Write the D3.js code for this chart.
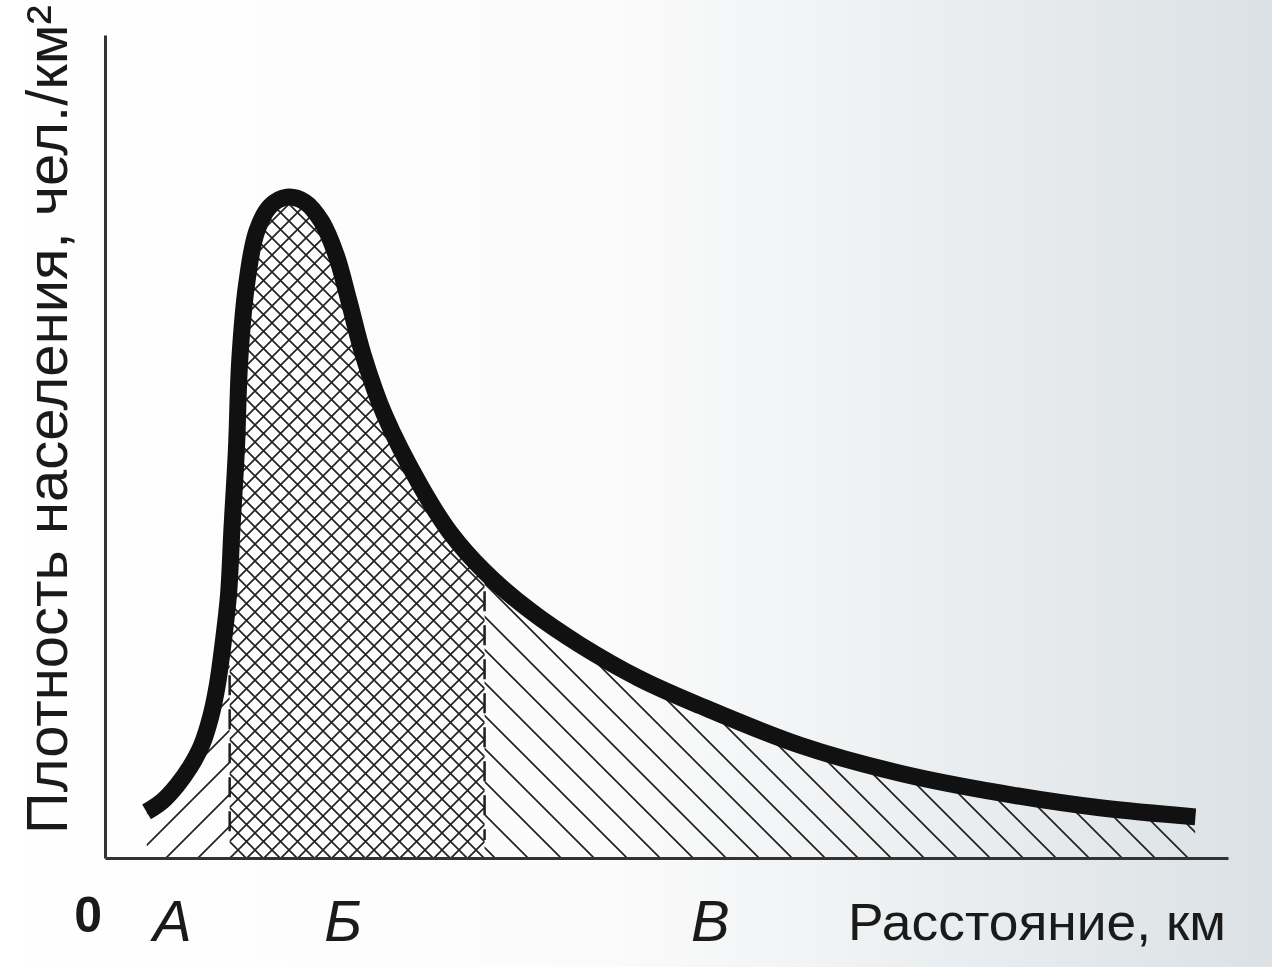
<!DOCTYPE html>
<html>
<head>
<meta charset="utf-8">
<script src="https://cdn.jsdelivr.net/npm/d3@7"></script>
<style>
body { margin: 0; background: #fff; }
svg { display: block; }
.lbl { font-family: "Liberation Sans", Arial, sans-serif; fill: #1a1a1a; }
</style>
</head>
<body>
<script>
// distance from centre (relative units) and population density (relative units)
var distance = [3.7, 5.1, 6.4, 7.6, 8.6, 9.4, 10.0, 10.5, 11.0, 11.3, 11.7, 12.0, 12.6, 13.5, 14.7, 16.2, 17.8,
                19.3, 20.6, 21.7, 23.0, 24.9, 28.1, 30.7, 33.8, 37.9, 42.3, 47.6, 53.0, 61.9, 70.8, 79.7, 88.6, 97.1];
var density  = [5.6, 6.9, 8.8, 11.1, 13.7, 17.1, 21.0, 25.9, 32.0, 39.9, 49.6, 60.5, 69.6, 76.1, 79.2, 80.3, 79.7,
                77.3, 73.2, 67.8, 61.1, 53.8, 45.2, 39.6, 34.8, 30.0, 25.9, 21.8, 18.5, 13.7, 10.3, 7.9, 6.1, 5.0];

var zoneBounds = [11.1, 33.8];          // dashed borders between zones
var dashTops = [22.2, 32.4];
var dashBottom = 2.2;
var zoneLabels = ["А", "Б", "В"];
var zoneLabelX = [6.0, 21.2, 53.9];
var originLabel = "0";
var xTitle = "Расстояние, км";
var yTitle = "Плотность населения, чел./км²";

var w = 1272, h = 967;
var svg = d3.select("body").append("svg").attr("width", w).attr("height", h);

var x = d3.scaleLinear().domain([0, 100]).range([105, 1228]);
var y = d3.scaleLinear().domain([0, 100]).range([858, 35]);

var pts = distance.map(function(d, i){ return [d, density[i]]; });

var defs = svg.append("defs");
var bg = defs.append("linearGradient").attr("id", "paper").attr("x1", 0).attr("x2", 1).attr("y1", 0).attr("y2", 0);
bg.append("stop").attr("offset", "0%").attr("stop-color", "#ffffff");
bg.append("stop").attr("offset", "48%").attr("stop-color", "#fbfbfb");
bg.append("stop").attr("offset", "100%").attr("stop-color", "#dbe1e5");

function hatch(id, s, paths) {
	defs.append("pattern").attr("id", id).attr("patternUnits", "userSpaceOnUse")
		.attr("width", s).attr("height", s)
		.append("path").attr("d", paths).attr("stroke", "#222").attr("stroke-width", 1.7).attr("fill", "none");
}
var fwd = function(s){ return "M0," + s + "L" + s + ",0M" + (-s/4) + "," + (s/4) + "L" + (s/4) + "," + (-s/4) + "M" + (3*s/4) + "," + (5*s/4) + "L" + (5*s/4) + "," + (3*s/4); };
var back = function(s){ return "M0,0L" + s + "," + s + "M" + (-s/4) + "," + (3*s/4) + "L" + (s/4) + "," + (5*s/4) + "M" + (3*s/4) + "," + (-s/4) + "L" + (5*s/4) + "," + (s/4); };
hatch("hA", 32, fwd(32));
hatch("hB", 17, fwd(17) + back(17));
hatch("hV", 33, back(33));

svg.append("rect").attr("width", w).attr("height", h).attr("fill", "url(#paper)");

var edges = [distance[0], zoneBounds[0], zoneBounds[1], distance[distance.length - 1]];
var fills = ["hA", "hB", "hV"];
fills.forEach(function(f, i){
	defs.append("clipPath").attr("id", "c" + i).append("rect")
		.attr("x", x(edges[i])).attr("y", 0)
		.attr("width", x(edges[i + 1]) - x(edges[i])).attr("height", h);
});

var area = d3.area().curve(d3.curveCatmullRom.alpha(0.5))
	.x(function(d){ return x(d[0]); }).y0(y(0)).y1(function(d){ return y(d[1]); });
fills.forEach(function(f, i){
	svg.append("path").attr("d", area(pts)).attr("fill", "url(#" + f + ")").attr("clip-path", "url(#c" + i + ")");
});

// zone borders
svg.selectAll(".dash").data(zoneBounds).enter().append("line")
	.attr("x1", function(d){ return x(d); }).attr("x2", function(d){ return x(d); })
	.attr("y1", function(d, i){ return y(dashTops[i]); }).attr("y2", y(dashBottom))
	.attr("stroke", "#1e1e1e").attr("stroke-width", 2.5).attr("stroke-dasharray", "20,14");

// axes
svg.append("g").attr("transform", "translate(0," + y(0) + ")")
	.call(d3.axisBottom(x).tickValues([]).tickSizeOuter(0));
svg.append("g").attr("transform", "translate(" + x(0) + ",0)")
	.call(d3.axisLeft(y).tickValues([]).tickSizeOuter(0));
svg.selectAll(".domain").attr("stroke", "#333").attr("stroke-width", 3);

// curve
var line = d3.line().curve(d3.curveCatmullRom.alpha(0.5))
	.x(function(d){ return x(d[0]); }).y(function(d){ return y(d[1]); });
svg.append("path").attr("d", line(pts)).attr("fill", "none")
	.attr("stroke", "#111").attr("stroke-width", 17).attr("stroke-linecap", "butt").attr("stroke-linejoin", "round");

// labels
svg.append("text").attr("class", "lbl").attr("x", x(-1.5)).attr("y", 932)
	.attr("text-anchor", "middle").attr("font-size", 50).attr("font-weight", "bold").text(originLabel);
svg.selectAll(".zone").data(zoneLabels).enter().append("text").attr("class", "lbl")
	.attr("x", function(d, i){ return x(zoneLabelX[i]); }).attr("y", 941)
	.attr("text-anchor", "middle").attr("font-size", 58).attr("font-style", "italic")
	.text(function(d){ return d; });
svg.append("text").attr("class", "lbl").attr("x", 848).attr("y", 940)
	.attr("font-size", 52).attr("textLength", 378).attr("lengthAdjust", "spacingAndGlyphs").text(xTitle);
svg.append("text").attr("class", "lbl").attr("transform", "translate(67,834) rotate(-90)")
	.attr("font-size", 58).text(yTitle);
</script>
</body>
</html>
